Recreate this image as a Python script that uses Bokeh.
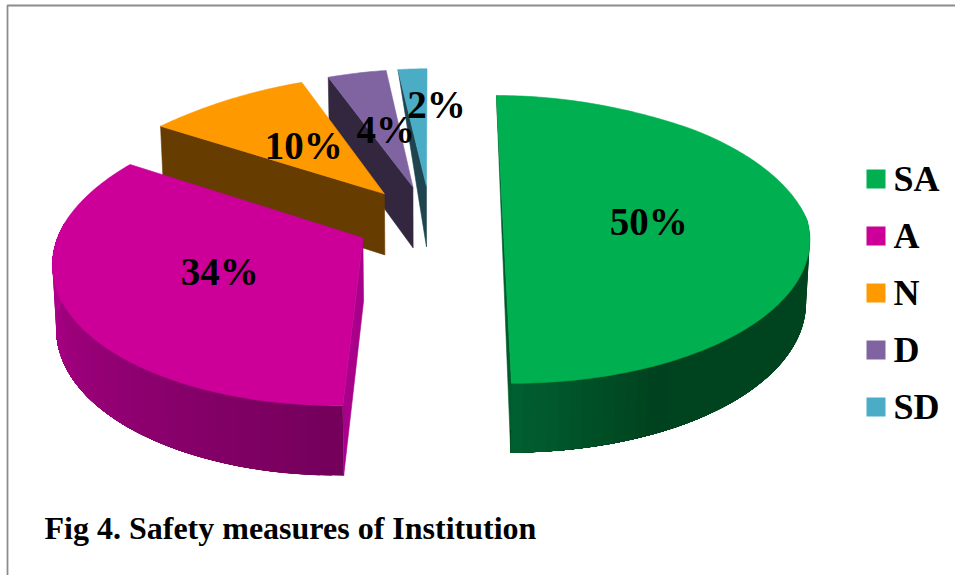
import math
from bokeh.plotting import figure
from bokeh.embed import file_html
from bokeh.resources import INLINE
from bokeh.core.properties import value

# ---- data ----
CATEGORIES = ["SA", "A", "N", "D", "SD"]
VALUES = [50, 34, 10, 4, 2]
VALUE_LABELS = ["50%", "34%", "10%", "4%", "2%"]
TITLE = "Fig 4. Safety measures of Institution"

# ---- styles ----
TOP_COLORS = ["#00b050", "#cc0099", "#ff9900", "#8064a2", "#4bacc6"]
CUT_COLORS = ["#005c2c", "#a8008a", "#663c00", "#33273f", "#1e4450"]
WALL_STOPS = {0: [(90, "#00441f"), (140, "#00441f"), (155, "#00421f"), (180, "#006030")],
              1: [(180, "#73005a"), (275, "#b4008e")]}
BORDER = "#8c8c8c"
SERIF = "Liberation Serif"

# ---- projection of the tilted, exploded pie ----
CX, CY, R, K, EXPLODE, HEIGHT = 430.5, 226.0, 301.0, 142.0, 0.25, 62.3
P_Y, P_E, P_BACK, P_FAR, P_FRONT, BOTTOM_SCALE = 0.10, 0.15, 0.155, 0.20, 0.12, 0.99
SHEAR, BUMP = 8.0, 6.0

shares = [v / sum(VALUES) * 360 for v in VALUES]
starts = [sum(shares[:i]) for i in range(len(shares))]


def project(theta, rho, mid, bottom=False):
    t, m = math.radians(theta), math.radians(mid)
    ud, vd = rho * math.sin(t), rho * math.cos(t)
    du, dv = EXPLODE * math.sin(m), EXPLODE * math.cos(m)
    v = vd + dv
    w = 1 + P_BACK * v + P_FAR * max(0.0, v - 0.7) if v > 0 else 1 + P_FRONT * v
    x = CX + R * du / (1 + P_E * v) + R * ud / w + SHEAR * min(v, 0)
    y = CY - K * v / (1 + P_Y * v) - BUMP * max(0.0, 1 - ((v - 0.05) / 1.15) ** 2)
    if bottom:
        x = CX + (x - CX) * BOTTOM_SCALE
        y += HEIGHT / (1 + P_Y * v)
    return x, y


def lerp_color(stops, theta):
    stops = sorted(stops)
    for (a, ca), (b, cb) in zip(stops, stops[1:]):
        if a <= theta <= b:
            f = (theta - a) / (b - a)
            rgb = [round(int(ca[i:i + 2], 16) * (1 - f) + int(cb[i:i + 2], 16) * f) for i in (1, 3, 5)]
            return "#%02x%02x%02x" % tuple(rgb)
    return stops[-1][1]


p = figure(width=955, height=575, x_range=(0, 955), y_range=(575, 0),
           output_backend="svg", toolbar_location=None, min_border=0,
           background_fill_color="white", border_fill_color="white")
p.styles = {"position": "absolute", "left": "0px", "top": "0px"}
p.axis.visible = False
p.grid.visible = False
p.outline_line_color = None


def poly(pts, color, lw=0.6):
    p.patch([a for a, _ in pts], [b for _, b in pts], fill_color=color, line_color=color, line_width=lw)


# paint from the back slice to the front slice
for i in [4, 3, 2, 1, 0]:
    a0, a1 = starts[i], starts[i] + shares[i]
    mid = (a0 + a1) / 2
    col_top, col_cut = TOP_COLORS[i], CUT_COLORS[i]
    apex, apex_b = project(0, 0, mid), project(0, 0, mid, True)
    s_top, s_b = project(a0, 1, mid), project(a0, 1, mid, True)
    e_top, e_b = project(a1, 1, mid), project(a1, 1, mid, True)

    if i == 0:      # straight cut along the diameter
        poly([s_top, e_top, e_b], col_cut)
    elif i == 1:    # cut facing right
        poly([apex, s_top, s_b, apex_b], col_cut)
    elif i == 4:
        poly([s_top, apex, apex_b], col_cut)
    else:
        poly([s_top, apex, apex_b, s_b], col_cut)

    if i in WALL_STOPS:
        lo, hi = (84, 180) if i == 0 else (180, 276)
        steps = 48
        # each band reaches the end of the wall, later bands paint over it: no seams
        for k in range(steps):
            t0 = lo + (hi - lo) * k / steps
            ts = [t0 + (hi - t0) * j / 16 for j in range(17)]
            pts = [project(t, 1, mid) for t in ts] + [project(t, 1, mid, True) for t in reversed(ts)]
            poly(pts, lerp_color(WALL_STOPS[i], t0 + (hi - lo) / steps / 2), lw=0)

    n = max(24, int(shares[i]))
    arc = [project(a0 + (a1 - a0) * k / n, 1, mid) for k in range(n + 1)]
    pts = [apex] + arc if i != 0 else arc
    poly(pts, col_top)

# value labels
LABEL_RHO = [0.47, 0.52, 0.55, 0.80, 0.65]
LABEL_NUDGE = [(1, 1), (5, -5), (13, 6), (20, 36), (20, -2)]
for i, lab in enumerate(VALUE_LABELS):
    mid = starts[i] + shares[i] / 2
    x, y = project(mid, LABEL_RHO[i], mid)
    p.text([x], [y], text=[lab], text_font=value(SERIF), text_font_style="bold",
           text_font_size="39px", text_color="black", text_align="center", text_baseline="middle",
           x_offset=LABEL_NUDGE[i][0], y_offset=LABEL_NUDGE[i][1])

# legend
LEGEND_KEY_X, LEGEND_TEXT_X, LEGEND_Y0, LEGEND_STEP = 875.5, 893, 178.5, 57
ys = [LEGEND_Y0 + LEGEND_STEP * i for i in range(len(CATEGORIES))]
p.scatter([LEGEND_KEY_X] * len(ys), ys, marker="square", size=19, fill_color=TOP_COLORS, line_color=None)
p.text([LEGEND_TEXT_X] * len(ys), ys, text=CATEGORIES, text_font=value(SERIF), text_font_style="bold",
       text_font_size="36px", text_color="black", text_align="left", text_baseline="middle")

# title and frame
p.text([44], [527], text=[TITLE], text_font=value(SERIF), text_font_style="bold", text_font_size="32px",
       text_color="black", text_align="left", text_baseline="middle")
p.line([7, 7, 955], [575, 5, 5], line_color=BORDER, line_width=1.8)

open("out.html", "w").write(file_html(p, INLINE))
